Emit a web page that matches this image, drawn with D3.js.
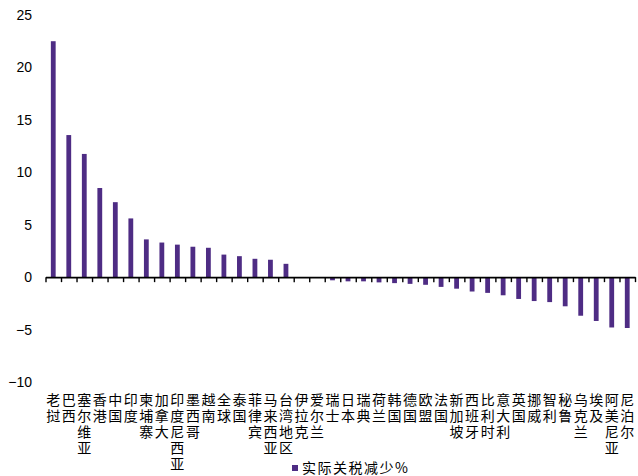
<!DOCTYPE html>
<html>
<head>
<meta charset="utf-8">
<script src="https://cdn.jsdelivr.net/npm/d3@7"></script>
<style>
  html, body { margin: 0; padding: 0; background: #fff; }
  svg { display: block; }
</style>
</head>
<body>
<svg id="chart" width="638" height="476"></svg>
<script>
// Categories (economies) in display order
const categories = [
  "老挝", "巴西", "塞尔维亚", "香港", "中国", "印度", "柬埔寨", "加拿大",
  "印度尼西亚", "墨西哥", "越南", "全球", "泰国", "菲律宾", "马来西亚", "台湾地区",
  "伊拉克", "爱尔兰", "瑞士", "日本", "瑞典", "荷兰", "韩国", "德国",
  "欧盟", "法国", "新加坡", "西班牙", "比利时", "意大利", "英国", "挪威",
  "智利", "秘鲁", "乌克兰", "埃及", "阿美尼亚", "尼泊尔"
];

// 实际关税减少 (%)
const values = [
  22.5, 13.55, 11.75, 8.5, 7.15, 5.6, 3.6, 3.3,
  3.1, 2.9, 2.8, 2.15, 2.0, 1.75, 1.66, 1.27,
  0, 0, -0.3, -0.4, -0.4, -0.5, -0.57, -0.64,
  -0.73, -0.93, -1.1, -1.37, -1.5, -1.73, -2.08, -2.28,
  -2.38, -2.78, -3.68, -4.18, -4.8, -4.85
];

const yTicks = [-10, -5, 0, 5, 10, 15, 20, 25];
const seriesName = "实际关税减少%";

const barColor = "#4e2c84";
const svg = d3.select("#chart");

const x = d3.scaleBand()
  .domain(categories)
  .range([45.5, 635])
  .padding(0);

const xIndex = d3.scaleLinear()
  .domain([0, categories.length])
  .range(x.range());

const y = d3.scaleLinear()
  .domain([-10, 25])
  .range([382, 15]);

// Y axis: labels only, no line or ticks
const yAxis = svg.append("g")
  .attr("transform", "translate(32,0)")
  .call(d3.axisLeft(y).tickValues(yTicks).tickSize(0).tickPadding(0).tickFormat(d3.format("d")));
yAxis.select(".domain").remove();
yAxis.selectAll("text")
  .attr("font-family", "Liberation Sans, Arial, sans-serif")
  .attr("font-size", 14)
  .attr("fill", "#000");

// Bars
const barW = 4.8;
svg.append("g")
  .selectAll("rect")
  .data(categories.map((c, i) => ({ c, v: values[i] })))
  .join("rect")
  .attr("x", d => x(d.c) + x.bandwidth() / 2 - barW / 2)
  .attr("width", barW)
  .attr("y", d => y(Math.max(0, d.v)))
  .attr("height", d => Math.abs(y(d.v) - y(0)))
  .attr("fill", barColor);

// Category axis along zero with slot-boundary ticks
const xAxis = svg.append("g")
  .attr("transform", `translate(0,${y(0)})`)
  .call(d3.axisBottom(xIndex)
    .tickValues(d3.range(categories.length + 1))
    .tickFormat("")
    .tickSizeInner(5)
    .tickSizeOuter(0));
xAxis.select(".domain").attr("stroke", "#000").attr("stroke-width", 1.6);
xAxis.selectAll(".tick line").attr("stroke", "#000").attr("stroke-width", 1.4);

// Category labels, one character per line
const labels = svg.append("g")
  .attr("font-family", "Noto Sans CJK SC, sans-serif")
  .attr("font-size", 14)
  .attr("fill", "#000")
  .attr("text-anchor", "middle");

categories.forEach(c => {
  const t = labels.append("text")
    .attr("x", x(c) + x.bandwidth() / 2)
    .attr("y", 405);
  Array.from(c).forEach((ch, j) => {
    t.append("tspan")
      .attr("x", x(c) + x.bandwidth() / 2)
      .attr("dy", j === 0 ? 0 : 16)
      .text(ch);
  });
});

// Legend
const legend = svg.append("g").attr("transform", "translate(292,465)");
legend.append("rect")
  .attr("width", 6)
  .attr("height", 6)
  .attr("fill", barColor);
legend.append("text")
  .attr("x", 10)
  .attr("y", 8)
  .attr("font-family", "Noto Sans CJK SC, sans-serif")
  .attr("font-size", 14)
  .attr("letter-spacing", 1.5)
  .attr("fill", "#000")
  .text(seriesName);
</script>
</body>
</html>
